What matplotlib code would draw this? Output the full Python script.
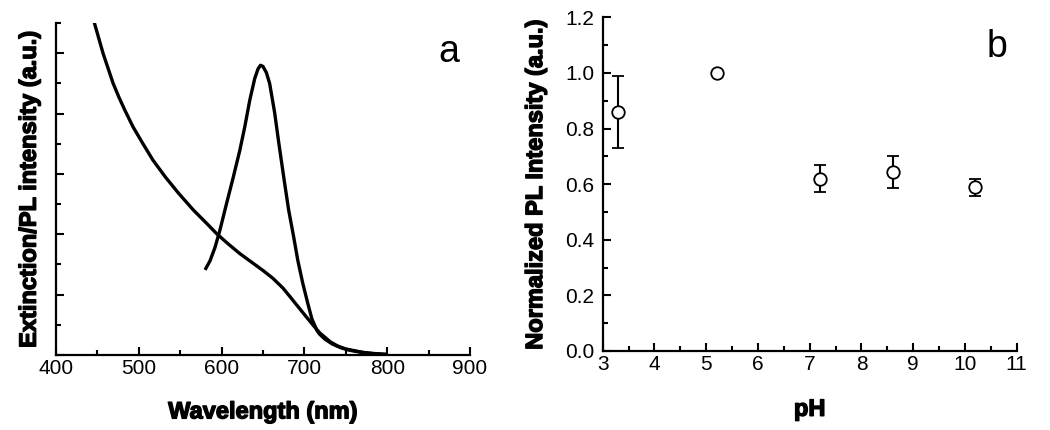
import matplotlib
matplotlib.use("Agg")
import matplotlib.pyplot as plt
import matplotlib.patheffects as pe
from matplotlib.ticker import MultipleLocator, NullFormatter

plt.rcParams['font.family'] = ['Liberation Sans', 'DejaVu Sans']

# Panel a: extinction spectrum (a.u.)
ext_wl = [445, 447, 457, 469, 476, 483, 493, 505, 517, 532, 548, 566, 582, 594, 608,
          622, 636, 650, 662, 674, 683, 690, 703, 712, 719, 726, 731, 740, 750, 770,
          785, 800]
ext_val = [5.58, 5.47, 4.99, 4.50, 4.27, 4.06, 3.78, 3.50, 3.23, 2.95, 2.68, 2.40, 2.18,
           2.01, 1.84, 1.68, 1.54, 1.40, 1.27, 1.11, 0.96, 0.84, 0.62, 0.47, 0.36, 0.28,
           0.22, 0.15, 0.10, 0.045, 0.02, 0.008]

# Panel a: PL spectrum (a.u.)
pl_wl = [580, 586, 592, 598, 606, 614, 622, 628, 634, 640, 644, 647, 650, 654, 658, 664,
         669, 675, 681, 687, 692, 698, 704, 709, 715, 718, 725, 734, 744, 754, 766, 778,
         800]
pl_val = [1.41, 1.56, 1.78, 2.07, 2.51, 2.94, 3.39, 3.78, 4.22, 4.58, 4.74, 4.80, 4.78,
          4.68, 4.50, 4.02, 3.52, 2.95, 2.40, 1.96, 1.57, 1.19, 0.86, 0.60, 0.41, 0.35,
          0.26, 0.18, 0.12, 0.08, 0.05, 0.03, 0.01]

# Panel b: normalized PL intensity vs pH
ph = [3.3, 5.2, 7.2, 8.6, 10.2]
norm_pl = [0.86, 1.00, 0.62, 0.643, 0.588]
norm_err = [0.13, 0.0, 0.048, 0.058, 0.032]

x_ticks_a = [400, 500, 600, 700, 800, 900]
x_ticks_b = [3, 4, 5, 6, 7, 8, 9, 10, 11]
y_ticks_b = [0.0, 0.2, 0.4, 0.6, 0.8, 1.0, 1.2]

fig = plt.figure(figsize=(10.5, 4.3), dpi=100)
axa = fig.add_axes([56/1050, 1-355/430, 414/1050, 332/430])
axb = fig.add_axes([602.7/1050, 1-351/430, 414/1050, 333.7/430])

label_fx = [pe.withStroke(linewidth=1.0, foreground='black')]
lab_kw = dict(fontsize=17, fontweight='bold', path_effects=label_fx)

for ax in (axa, axb):
    for s in ('top', 'right'):
        ax.spines[s].set_visible(False)
    for s in ('left', 'bottom'):
        ax.spines[s].set_linewidth(1.6)
    ax.tick_params(which='both', direction='in', width=1.5, labelsize=15)
    ax.tick_params(axis='x', pad=3)
    ax.tick_params(axis='y', pad=6)
    ax.tick_params(which='major', length=6)
    ax.tick_params(which='minor', length=3.5)

# ---- panel a
axa.plot(ext_wl, ext_val, color='black', lw=2.4, solid_capstyle='butt', solid_joinstyle='round')
axa.plot(pl_wl, pl_val, color='black', lw=2.4, solid_capstyle='butt', solid_joinstyle='round')
axa.set_xlim(400, 900)
axa.set_ylim(0, 5.5)
axa.set_xticks(x_ticks_a)
axa.xaxis.set_minor_locator(MultipleLocator(50))
axa.yaxis.set_major_locator(MultipleLocator(1))
axa.yaxis.set_minor_locator(MultipleLocator(0.5))
axa.yaxis.set_major_formatter(NullFormatter())
axa.set_xlabel('Wavelength (nm)', labelpad=16, **lab_kw)
axa.set_ylabel('Extinction/PL intensity (a.u.)', labelpad=5, **lab_kw)
axa.text(0.949, 0.913, 'a', transform=axa.transAxes, fontsize=27, ha='center', va='center')

# ---- panel b
axb.errorbar(ph, norm_pl, yerr=norm_err, fmt='o', ms=9, mfc='white', mec='black',
             mew=1.3, ecolor='black', elinewidth=1.5, capsize=4, capthick=1.5, zorder=3)
axb.set_xlim(3, 11)
axb.set_ylim(0, 1.2)
axb.set_xticks(x_ticks_b)
axb.set_yticks(y_ticks_b)
axb.set_yticklabels([f'{v:.1f}' for v in y_ticks_b])
axb.xaxis.set_minor_locator(MultipleLocator(0.5))
axb.yaxis.set_minor_locator(MultipleLocator(0.1))
axb.set_xlabel('pH', labelpad=17, **lab_kw)
axb.set_ylabel('Normalized PL Intensity (a.u.)', labelpad=13, **lab_kw)
axb.text(0.952, 0.911, 'b', transform=axb.transAxes, fontsize=27, ha='center', va='center')

fig.savefig('out.png', dpi=100)
